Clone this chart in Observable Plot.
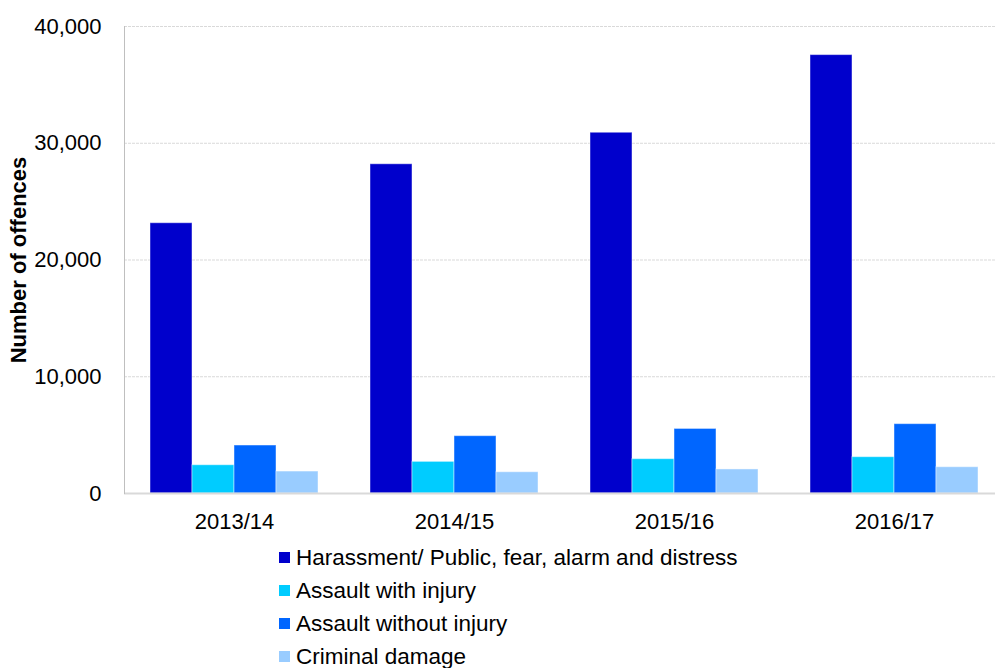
<!DOCTYPE html>
<html><head><meta charset="utf-8">
<script src="https://cdn.jsdelivr.net/npm/d3@7"></script>
<script src="https://cdn.jsdelivr.net/npm/@observablehq/plot@0.6"></script>
<style>
html,body{margin:0;padding:0;background:#fff;overflow:hidden;}
body{font-family:"Liberation Sans",Arial,sans-serif;}
#chart{width:1004px;height:540px;}
#chart svg{max-width:none !important;display:block;}
#chart svg g[aria-label="y-axis label"] text{font-weight:bold;}
.legend{padding-left:279px;margin-top:1px;}
.row{display:flex;align-items:center;height:33px;font-size:22.5px;color:#000;}
.sw{width:11px;height:11px;margin-right:6px;flex:none;}
</style></head><body>
<div id="chart"></div><div class="legend" id="legend"></div>
<script>
const years = ["2013/14", "2014/15", "2015/16", "2016/17"];
const seriesNames = ["Harassment/ Public, fear, alarm and distress", "Assault with injury", "Assault without injury", "Criminal damage"];
const harassment = [23150, 28200, 30900, 37550];
const assaultWithInjury = [2420, 2710, 2940, 3110];
const assaultWithoutInjury = [4110, 4910, 5530, 5940];
const criminalDamage = [1880, 1820, 2060, 2250];
const colors = ["#0000CC", "#00CCFF", "#0066FF", "#99CCFF"];
const yTicks = [0, 10000, 20000, 30000, 40000];

const valuesBySeries = [harassment, assaultWithInjury, assaultWithoutInjury, criminalDamage];
const data = years.flatMap((yr, i) => seriesNames.map((s, j) => ({year: yr, series: s, value: valuesBySeries[j][i]})));

const chart = Plot.plot({
  width: 1004, height: 540,
  marginLeft: 124, marginRight: 0, marginTop: 26, marginBottom: 47,
  style: {fontSize: "22px", fontFamily: "Liberation Sans, Arial, sans-serif", color: "#000", background: "#fff"},
  fx: {domain: years, padding: 0, label: null, tickSize: 0, tickPadding: 20, axis: "bottom"},
  x: {domain: seriesNames, paddingInner: 0, paddingOuter: 0.573, axis: null},
  y: {domain: [0, 40000], ticks: yTicks, tickFormat: d3.format(","), tickSize: 0, tickPadding: 23,
      label: "Number of offences", labelAnchor: "center", labelOffset: 114, labelArrow: "none"},
  color: {domain: seriesNames, range: colors},
  marks: [
    Plot.gridY(yTicks, {stroke: "#d9d9d9", strokeOpacity: 1, strokeDasharray: "3,1"}),
    Plot.barY(data, {fx: "year", x: "series", y: "value", fill: "series", stroke: "#fff", strokeOpacity: 0.45, strokeWidth: 1}),
    Plot.ruleY([0], {stroke: "#d9d9d9", strokeWidth: 2}),
    Plot.frame({anchor: "left", facetAnchor: "left", stroke: "#bfbfbf"})
  ]
});
document.getElementById("chart").appendChild(chart);

const legend = document.getElementById("legend");
seriesNames.forEach((s, i) => {
  const row = document.createElement("div");
  row.className = "row";
  const sw = document.createElement("span");
  sw.className = "sw";
  sw.style.background = colors[i];
  const t = document.createElement("span");
  t.textContent = s;
  row.appendChild(sw); row.appendChild(t);
  legend.appendChild(row);
});
</script>
</body></html>
